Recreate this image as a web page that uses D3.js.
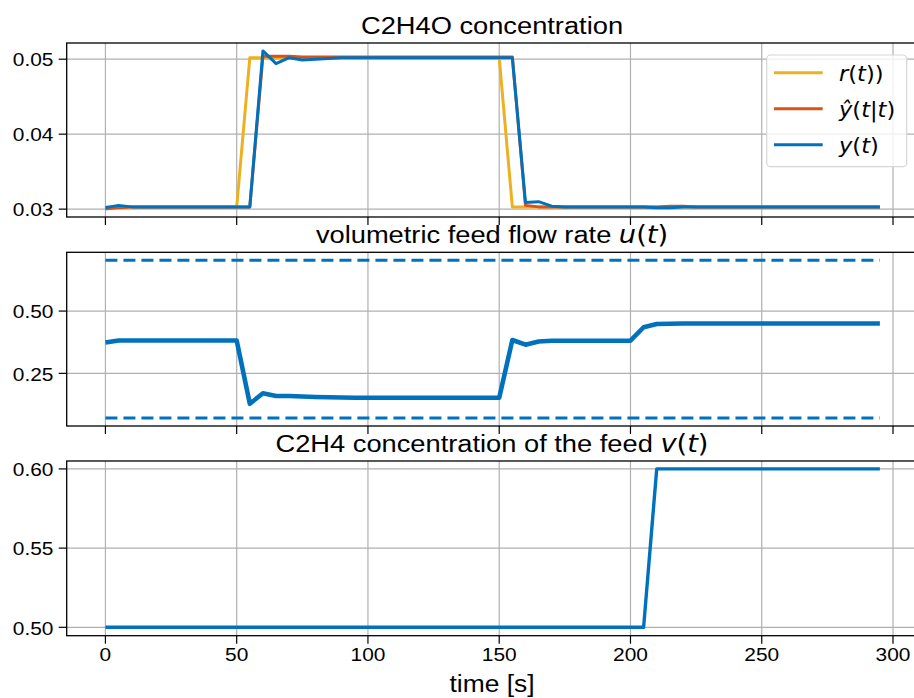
<!DOCTYPE html>
<html>
<head>
<meta charset="utf-8">
<script src="https://cdn.jsdelivr.net/npm/d3@7/dist/d3.min.js"></script>
<style>
html,body{margin:0;padding:0;background:#fff;}
svg{display:block;}
</style>
</head>
<body>
<div id="chart"></div>
<script>
// ---------------- data ----------------
const time = [0,5,10,15,20,25,30,35,40,45,50,55,60,65,70,75,80,85,90,95,
              100,105,110,115,120,125,130,135,140,145,150,155,160,165,170,175,180,185,190,195,
              200,205,210,215,220,225,230,235,240,245,250,255,260,265,270,275,280,285,290,295];

// setpoint r(t)
const rSet = [0.0303,0.0303,0.0303,0.0303,0.0303,0.0303,0.0303,0.0303,0.0303,0.0303,0.0303,
              0.0502,0.0502,0.0502,0.0502,0.0502,0.0502,0.0502,0.0502,0.0502,0.0502,0.0502,0.0502,0.0502,0.0502,0.0502,0.0502,0.0502,0.0502,0.0502,0.0502,
              0.0303,0.0303,0.0303,0.0303,0.0303,0.0303,0.0303,0.0303,0.0303,0.0303,0.0303,0.0303,0.0303,0.0303,0.0303,0.0303,0.0303,0.0303,0.0303,0.0303,0.0303,0.0303,0.0303,0.0303,0.0303,0.0303,0.0303,0.0303,0.0303];

// estimate y^(t|t)
const yHat = [0.0300,0.0302,
              0.0303,0.0303,0.0303,0.0303,0.0303,0.0303,0.0303,0.0303,0.0303,0.0303,
              0.0504,0.0504,0.0504,0.0503,
              0.0503,0.0503,0.0503,0.0503,0.0503,0.0503,0.0503,0.0503,0.0503,0.0503,0.0503,0.0503,0.0503,0.0503,0.0503,0.0503,
              0.0305,0.0303,
              0.0303,0.0303,0.0303,0.0303,0.0303,0.0303,0.0303,0.0303,
              0.0303,0.0304,0.0304,
              0.0303,0.0303,0.0303,0.0303,0.0303,0.0303,0.0303,0.0303,0.0303,0.0303,0.0303,0.0303,0.0303,0.0303,0.0303];

// measured y(t)
const yMeas = [0.0302,0.0305,0.0303,
               0.0303,0.0303,0.0303,0.0303,0.0303,0.0303,0.0303,0.0303,0.0303,
               0.0511,0.0494,0.0502,0.0499,0.0500,0.0501,
               0.0502,0.0502,0.0502,0.0502,0.0502,0.0502,0.0502,0.0502,0.0502,0.0502,0.0502,0.0502,0.0502,0.0502,
               0.0309,0.0310,0.0304,
               0.0303,0.0303,0.0303,0.0303,0.0303,0.0303,0.0303,
               0.0302,0.0302,
               0.0303,0.0303,0.0303,0.0303,0.0303,0.0303,0.0303,0.0303,0.0303,0.0303,0.0303,0.0303,0.0303,0.0303,0.0303,0.0303];

// volumetric feed flow rate u(t)
const uFlow = [0.374,
               0.382,0.382,0.382,0.382,0.382,0.382,0.382,0.382,0.382,0.382,
               0.128,0.170,0.159,0.159,0.157,0.155,0.154,0.153,
               0.152,0.152,0.152,0.152,0.152,0.152,0.152,0.152,0.152,0.152,0.152,0.152,
               0.384,0.365,0.378,
               0.381,0.381,0.381,0.381,0.381,0.381,0.381,
               0.435,0.448,0.449,
               0.450,0.450,0.450,0.450,0.450,0.450,0.450,0.450,0.450,0.450,0.450,0.450,0.450,0.450,0.450,0.450];
const uBounds = [0.0704, 0.7042];

// C2H4 feed concentration v(t)
const vFeed = [0.5,0.5,0.5,0.5,0.5,0.5,0.5,0.5,0.5,0.5,0.5,0.5,0.5,0.5,0.5,0.5,0.5,0.5,0.5,0.5,0.5,
               0.5,0.5,0.5,0.5,0.5,0.5,0.5,0.5,0.5,0.5,0.5,0.5,0.5,0.5,0.5,0.5,0.5,0.5,0.5,0.5,0.5,
               0.6,0.6,0.6,0.6,0.6,0.6,0.6,0.6,0.6,0.6,0.6,0.6,0.6,0.6,0.6,0.6,0.6,0.6];

const xTicks = [0,50,100,150,200,250,300];
const yTicksTop = [0.03,0.04,0.05];
const yTicksMid = [0.25,0.50];
const yTicksBot = [0.50,0.55,0.60];
const legendLabels = ["r(t))","ŷ(t|t)","y(t)"];

// ---------------- layout ----------------
const W = 914, H = 698;
const C_ORANGE = "#EDB120", C_RED = "#D95319", C_BLUE = "#0072BD";
const SX = 1.1; // horizontal text stretch
const SANS = "'Liberation Sans', Arial, Helvetica, sans-serif";
const MATH = "'DejaVu Sans', sans-serif";

const svg = d3.select("#chart").append("svg").attr("width", W).attr("height", H)
  .style("background","#fff");

const left = 66.7, right = 918.6;
const x = d3.scaleLinear().domain([-14.75, 309.75]).range([left, right]);

const panels = [
  {top:43,   bottom:217,   domain:[0.02895,0.05216], ticks:yTicksTop, fmt:d3.format(".2f")},
  {top:252.3,bottom:426,   domain:[0.0387,0.7359],   ticks:yTicksMid, fmt:d3.format(".2f")},
  {top:461,  bottom:635.7, domain:[0.4947,0.6050],   ticks:yTicksBot, fmt:d3.format(".2f")}
];
panels.forEach(p => { p.y = d3.scaleLinear().domain(p.domain).range([p.bottom, p.top]); });

function stext(g, str, px, py, size, anchor, family){
  return g.append("text").attr("transform", `translate(${px},${py}) scale(${SX},1)`)
    .attr("text-anchor", anchor).attr("font-family", family||SANS)
    .attr("font-size", size).attr("fill","#000").text(str);
}

const TICK_FS = 19;

panels.forEach((p, i) => {
  const g = svg.append("g");
  const cid = "clip"+i;
  svg.append("clipPath").attr("id",cid).append("rect")
    .attr("x",left).attr("y",p.top).attr("width",right-left).attr("height",p.bottom-p.top);
  // grid
  const grid = g.append("g").attr("stroke","#b0b0b0").attr("stroke-width",1.2);
  xTicks.forEach(t => grid.append("line").attr("x1",x(t)).attr("x2",x(t)).attr("y1",p.top).attr("y2",p.bottom));
  p.ticks.forEach(v => grid.append("line").attr("x1",left).attr("x2",right).attr("y1",p.y(v)).attr("y2",p.y(v)));
  // ticks
  const tk = g.append("g").attr("stroke","#000").attr("stroke-width",1.2);
  xTicks.forEach(t => tk.append("line").attr("x1",x(t)).attr("x2",x(t)).attr("y1",p.bottom).attr("y2",p.bottom+8));
  p.ticks.forEach(v => tk.append("line").attr("x1",left-8).attr("x2",left).attr("y1",p.y(v)).attr("y2",p.y(v)));
  p.ticks.forEach(v => stext(g, p.fmt(v), 53.5, p.y(v)+7.2, TICK_FS, "end"));
  p.g = g; p.clip = cid;
});

// axis frame
panels.forEach(p => {
  p.g.append("rect").attr("x",left).attr("y",p.top).attr("width",right-left).attr("height",p.bottom-p.top)
    .attr("fill","none").attr("stroke","#000").attr("stroke-width",1.3);
});

function drawLine(p, vals, color, width, dash){
  const line = d3.line().x((d,i)=>x(time[i])).y(d=>p.y(d));
  p.g.append("path").datum(vals).attr("d",line).attr("fill","none")
    .attr("stroke",color).attr("stroke-width",width).attr("stroke-linejoin","round")
    .attr("stroke-dasharray", dash||null).attr("clip-path",`url(#${p.clip})`);
}

// top panel
drawLine(panels[0], rSet, C_ORANGE, 3);
drawLine(panels[0], yHat, C_RED, 3);
drawLine(panels[0], yMeas, C_BLUE, 3);

// middle panel
uBounds.forEach(b => drawLine(panels[1], time.map(()=>b), C_BLUE, 3, "12,6"));
drawLine(panels[1], uFlow, C_BLUE, 4.6);

// bottom panel
drawLine(panels[2], vFeed, C_BLUE, 3.4);

// x tick labels bottom
xTicks.forEach(t => stext(svg, String(t), x(t), 661, TICK_FS, "middle"));
stext(svg, "time [s]", 492, 691.5, 24, "middle");

// titles
const TFS = 24.8;
function title(parts, py){
  const t = svg.append("text").attr("transform", `translate(492,${py}) scale(${SX},1)`)
    .attr("text-anchor","middle").attr("font-size",TFS).attr("fill","#000");
  parts.forEach(pt => t.append("tspan").attr("font-family", pt.m ? MATH : SANS)
     .attr("font-style", pt.i ? "italic" : "normal").text(pt.s));
}
title([{s:"C2H4O concentration"}], 33.5);
title([{s:"volumetric feed flow rate "},{s:"u",m:1,i:1},{s:"(",m:1},{s:"t",m:1,i:1},{s:")",m:1}], 243);
title([{s:"C2H4 concentration of the feed "},{s:"v",m:1,i:1},{s:"(",m:1},{s:"t",m:1,i:1},{s:")",m:1}], 451.5);

// legend
const lg = svg.append("g");
lg.append("rect").attr("x",766.7).attr("y",55).attr("width",140).attr("height",111.7).attr("rx",4)
  .attr("fill","#fff").attr("fill-opacity",0.8).attr("stroke","#d6d6d6").attr("stroke-width",1.2);
const legColors = [C_ORANGE, C_RED, C_BLUE];
const legParts = [
  [{s:"r",i:1},{s:"("},{s:"t",i:1},{s:"))"}],
  [{s:"ŷ",i:1},{s:"("},{s:"t",i:1},{s:"|"},{s:"t",i:1},{s:")"}],
  [{s:"y",i:1},{s:"("},{s:"t",i:1},{s:")"}]
];
legendLabels.forEach((lab,i) => {
  const cy = 72.7 + i*36;
  lg.append("line").attr("x1",774).attr("x2",822.7).attr("y1",cy).attr("y2",cy)
    .attr("stroke",legColors[i]).attr("stroke-width",3);
  const t = lg.append("text").attr("transform",`translate(839,${cy+8}) scale(${SX},1)`)
    .attr("font-family",MATH).attr("font-size",20.5).attr("fill","#000").attr("aria-label",lab);
  legParts[i].forEach(pt => t.append("tspan").attr("font-style", pt.i?"italic":"normal").text(pt.s));
});
</script>
</body>
</html>
